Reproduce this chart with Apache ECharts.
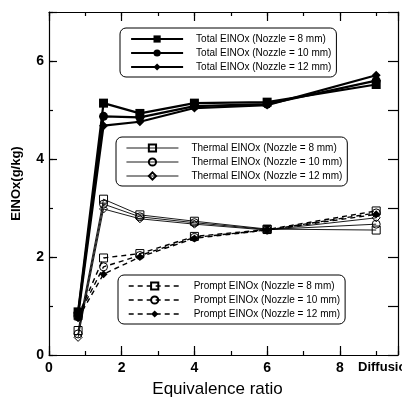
<!DOCTYPE html>
<html>
<head>
<meta charset="utf-8">
<script src="https://cdn.jsdelivr.net/npm/echarts@6/dist/echarts.min.js"></script>
<style>
  html, body { margin: 0; padding: 0; background: #fff; }
  #main { width: 402px; height: 397px; }
</style>
</head>
<body>
<div id="main"></div>
<script>
// equivalence ratio positions (9 = "Diffusion")
var xValues = [0.8, 1.5, 2.5, 4, 6, 9];

var totalNoz8 = [0.88, 5.14, 4.93, 5.14, 5.16, 5.52];
var totalNoz10 = [0.86, 4.87, 4.85, 5.08, 5.12, 5.6];
var totalNoz12 = [0.8, 4.68, 4.76, 5.04, 5.1, 5.71];

var thermalNoz8 = [0.5, 3.18, 2.86, 2.73, 2.57, 2.55];
var thermalNoz10 = [0.43, 3.08, 2.82, 2.7, 2.56, 2.67];
var thermalNoz12 = [0.36, 2.98, 2.78, 2.67, 2.55, 2.8];

var promptNoz8 = [0.8, 1.98, 2.07, 2.42, 2.56, 2.94];
var promptNoz10 = [0.78, 1.8, 2.03, 2.4, 2.55, 2.9];
var promptNoz12 = [0.75, 1.65, 2.0, 2.38, 2.55, 2.87];

var xTickLabels = { 0: '0', 2: '2', 4: '4', 6: '6', 8: '8', 9: 'Diffusion' };
var yTickLabels = [0, 2, 4, 6];

var font = 'Liberation Sans, Arial, sans-serif';

function pts(arr) {
    return xValues.map(function (x, i) { return [x, arr[i]]; });
}

function mkSeries(name, arr, symbol, size, filled, lineStyle) {
    return {
        name: name,
        type: 'line',
        data: pts(arr),
        symbol: symbol,
        symbolSize: size,
        lineStyle: lineStyle,
        itemStyle: {
            color: filled ? '#000' : 'rgba(255,255,255,0)',
            borderColor: '#000',
            borderWidth: filled ? 0 : 1
        },
        emphasis: { disabled: true },
        animation: false
    };
}

var solidThick = { color: '#000', width: 2.2 };
var solidThin = { color: '#000', width: 0.9 };
var dashed = { color: '#000', width: 1.4, type: [5, 4] };

var totalNames = ['Total EINOx (Nozzle = 8 mm)', 'Total EINOx (Nozzle = 10 mm)', 'Total EINOx (Nozzle = 12 mm)'];
var thermalNames = ['Thermal EINOx (Nozzle = 8 mm)', 'Thermal EINOx (Nozzle = 10 mm)', 'Thermal EINOx (Nozzle = 12 mm)'];
var promptNames = ['Prompt EINOx (Nozzle = 8 mm)', 'Prompt EINOx (Nozzle = 10 mm)', 'Prompt EINOx (Nozzle = 12 mm)'];

function mkLegend(names, left, top, lineW) {
    return {
        data: names,
        orient: 'vertical',
        left: left,
        top: top,
        itemWidth: 52,
        itemHeight: 9,
        itemGap: 4,
        padding: [6, 5, 5, 10],
        borderColor: '#000',
        borderWidth: 1,
        borderRadius: 6,
        selectedMode: false,
        lineStyle: { width: lineW },
        textStyle: { fontSize: 10, color: '#000', fontFamily: font, padding: [0, 0, 0, 8] }
    };
}

function tickAxis(pos, interval, len, showLine) {
    return {
        type: 'value',
        position: pos,
        min: 0,
        max: pos === 'left' || pos === 'right' ? 7 : 9.6,
        interval: interval,
        axisLine: { show: showLine, onZero: false, lineStyle: { color: '#000', width: 1.2 } },
        axisTick: { inside: true, length: len, lineStyle: { color: '#000', width: 1.2 } },
        axisLabel: { show: false },
        splitLine: { show: false }
    };
}

var xMain = tickAxis('bottom', 1, 4, true);
xMain.axisLabel = {
    show: true,
    color: '#000',
    fontSize: 14,
    fontWeight: 'bold',
    fontFamily: font,
    margin: 6,
    formatter: function (v) {
        if (v === 9) return '{d|' + xTickLabels[9] + '}';
        return xTickLabels[v] !== undefined ? xTickLabels[v] : '';
    },
    rich: { d: { fontSize: 13, fontWeight: 'bold', fontFamily: font, color: '#000', padding: [0, 0, 0, 20] } }
};
xMain.name = 'Equivalence ratio';
xMain.nameLocation = 'middle';
xMain.nameGap = 26;
xMain.nameTextStyle = { fontSize: 17, color: '#000', fontFamily: font, padding: [0, 12, 0, 0] };

var yMain = tickAxis('left', 1, 4, true);
yMain.axisLabel = {
    show: true,
    color: '#000',
    fontSize: 14,
    fontWeight: 'bold',
    fontFamily: font,
    margin: 5,
    formatter: function (v) { return yTickLabels.indexOf(v) >= 0 ? String(v) : ''; }
};
yMain.name = 'EINOx(g/kg)';
yMain.nameLocation = 'middle';
yMain.nameGap = 26;
yMain.nameTextStyle = { fontSize: 13, fontWeight: 'bold', color: '#000', fontFamily: font };

var myChart = echarts.init(document.getElementById('main'));

option = {
    backgroundColor: '#fff',
    animation: false,
    grid: { left: 49, right: 4, top: 12, bottom: 42, containLabel: false, outerBoundsMode: 'none' },
    xAxis: [
        xMain,
        tickAxis('bottom', 2, 9, false),
        tickAxis('top', 1, 4, true),
        tickAxis('top', 2, 9, false)
    ],
    yAxis: [
        yMain,
        tickAxis('left', 2, 8, false),
        tickAxis('right', 1, 10, true)
    ],
    legend: [
        mkLegend(totalNames, 120, 28, 2.2),
        mkLegend(thermalNames, 116, 137, 0.9),
        mkLegend(promptNames, 118, 275, 1.4)
    ],
    series: [
        mkSeries(totalNames[0], totalNoz8, 'rect', 9, true, solidThick),
        mkSeries(totalNames[1], totalNoz10, 'circle', 9, true, solidThick),
        mkSeries(totalNames[2], totalNoz12, 'diamond', 9, true, solidThick),
        mkSeries(thermalNames[0], thermalNoz8, 'rect', 8, false, solidThin),
        mkSeries(thermalNames[1], thermalNoz10, 'circle', 8, false, solidThin),
        mkSeries(thermalNames[2], thermalNoz12, 'diamond', 8, false, solidThin),
        mkSeries(promptNames[0], promptNoz8, 'rect', 8, false, dashed),
        mkSeries(promptNames[1], promptNoz10, 'circle', 8, false, dashed),
        mkSeries(promptNames[2], promptNoz12, 'diamond', 8, true, dashed)
    ]
};

myChart.setOption(option);
</script>
</body>
</html>
